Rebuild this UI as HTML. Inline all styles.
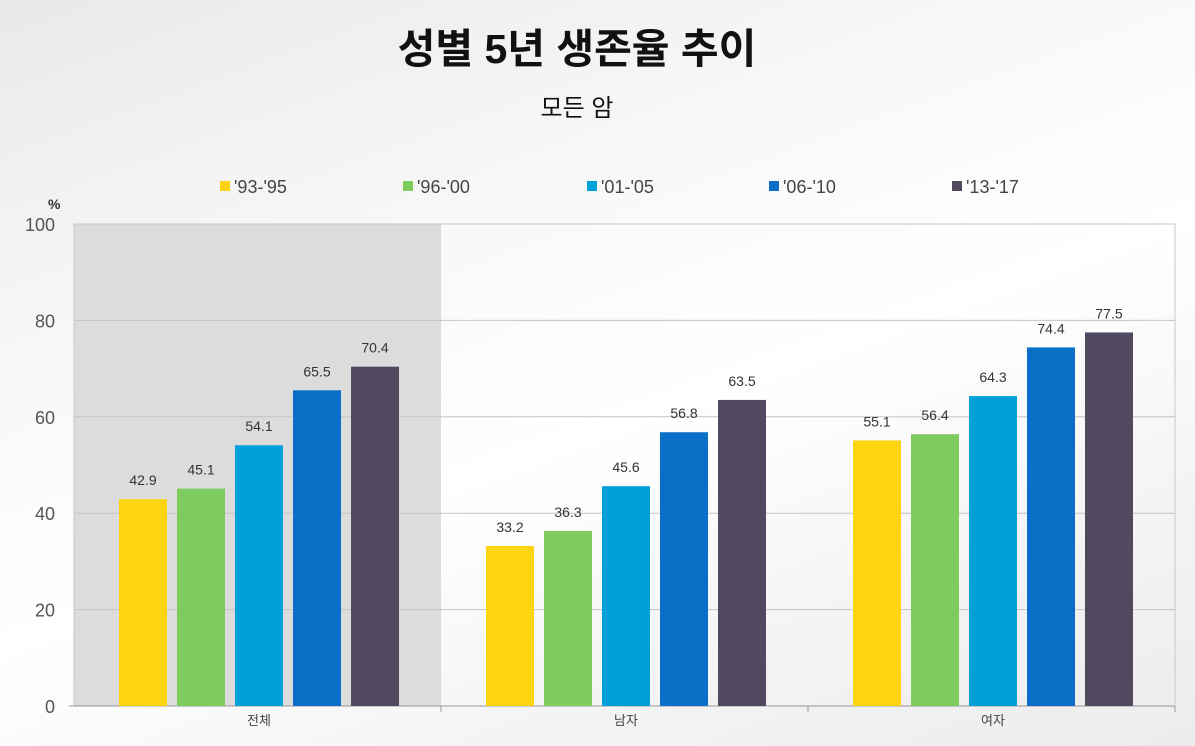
<!DOCTYPE html>
<html><head><meta charset="utf-8">
<style>
body{margin:0;width:1195px;height:746px;overflow:hidden;font-family:"Liberation Sans","Noto Sans CJK KR",sans-serif;}
#bg{position:absolute;left:0;top:0;width:1195px;height:746px;background:linear-gradient(160deg,#e9e9e9 0%,#f7f7f7 30%,#ffffff 55%,#f3f3f3 80%,#ececec 100%);}
</style></head>
<body>
<div id="bg"></div>
<svg id="chart" width="1195" height="746" style="position:absolute;left:0;top:0" xmlns="http://www.w3.org/2000/svg">
<text x="577" y="63" text-anchor="middle" font-size="41" font-weight="bold" fill="#111" font-family="Liberation Sans,Noto Sans CJK KR,sans-serif">성별 5년 생존율 추이</text>
<text x="577" y="116" text-anchor="middle" font-size="24" fill="#111" font-family="Liberation Sans,Noto Sans CJK KR,sans-serif">모든 암</text>
<text x="48" y="209" font-size="14" font-weight="bold" fill="#333">%</text>
<g id="plot"></g>
</svg>
<script>
const categories=['전체','남자','여자'];
const seriesNames=["'93-'95","'96-'00","'01-'05","'06-'10","'13-'17"];
const s1=[42.9,33.2,55.1];
const s2=[45.1,36.3,56.4];
const s3=[54.1,45.6,64.3];
const s4=[65.5,56.8,74.4];
const s5=[70.4,63.5,77.5];
const yTicks=[0,20,40,60,80,100];
const series=[s1,s2,s3,s4,s5];
const colors=['#fcd411','#7ecb5f','#00a0d8','#0b6ec7','#524960'];
const NS='http://www.w3.org/2000/svg';
const g=document.getElementById('plot');
const X0=74,X1=1175,Y0=706,Y1=224;
const y=v=>Y0-(v/100)*(Y0-Y1);
const gw=(X1-X0)/categories.length;
const bw=48,step=58;
function mk(t,a){const e=document.createElementNS(NS,t);for(const k in a)e.setAttribute(k,a[k]);g.appendChild(e);return e;}
let sh=mk('rect',{x:X0,y:Y1,width:gw,height:Y0-Y1,fill:'#dcdcdc'});


let fr=mk('rect',{x:X0,y:Y1,width:X1-X0,height:Y0-Y1,fill:'none',stroke:'#c8c8c8'});


yTicks.forEach(t=>{
  if(t>0&&t<100){let l=mk('line',{x1:X0,x2:X1,y1:y(t),y2:y(t),stroke:'#c4c4c4'});
  
  }
  let tx=mk('text',{x:55,y:y(t)+7,'text-anchor':'end','font-size':18,fill:'#555'});
  tx.textContent=t;
  
  
});
let ax=mk('line',{x1:X0-5,x2:X1,y1:Y0,y2:Y0,stroke:'#999'});


categories.forEach((c,i)=>{
  const cx=X0+gw*(i+0.5)+1.5;
  let tk=mk('line',{x1:X0+gw*(i+1),x2:X0+gw*(i+1),y1:Y0,y2:Y0+6,stroke:'#999'});
  
  
  let lb=mk('text',{x:cx,y:725,'text-anchor':'middle','font-size':13,fill:'#444'});
  lb.textContent=c;
  
  
  series.forEach((s,j)=>{
    const bx=cx+(j-2)*step-bw/2;
    let r=mk('rect',{x:bx,y:y(s[i]),width:bw,height:Y0-y(s[i]),fill:colors[j]});
    
    
    let v=mk('text',{x:bx+bw/2,y:y(s[i])-14,'text-anchor':'middle','font-size':14,fill:'#333'});
    v.textContent=s[i].toFixed(1);
    
    
  });
});
const lx=[220,403,587,769,952];
seriesNames.forEach((n,j)=>{
  let sq=mk('rect',{x:lx[j],y:181,width:10,height:10,fill:colors[j]});
  
  
  let t=mk('text',{x:lx[j]+14,y:193,'font-size':18,fill:'#444'});
  t.textContent=n;
  
  
});
</script>
</body></html>
